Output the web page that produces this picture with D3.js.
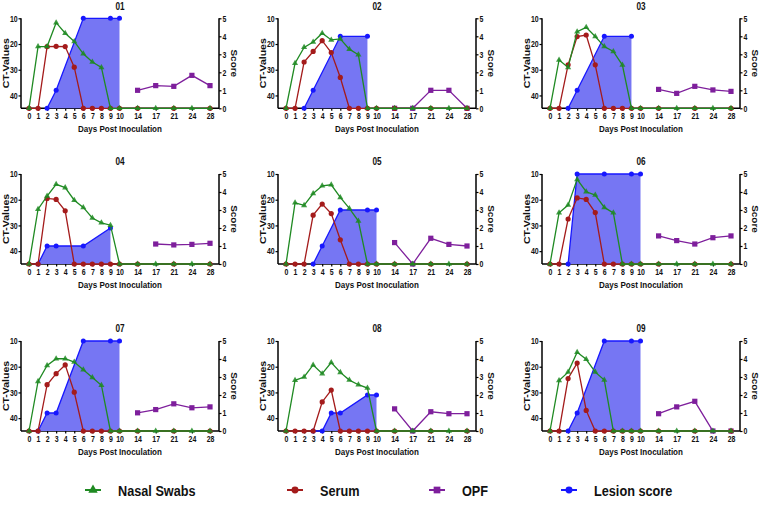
<!DOCTYPE html>
<html><head><meta charset="utf-8">
<script src="https://cdn.jsdelivr.net/npm/d3@7"></script>
<style>
html,body{margin:0;padding:0;background:#fff;}
svg text{font-family:"Liberation Sans",Arial,sans-serif;font-weight:bold;fill:#111;}
</style></head>
<body><svg id="chart" width="760" height="507"></svg>
<script>
// ---------------- data ----------------
const panelIds = ["01","02","03","04","05","06","07","08","09"];
const days = [0,1,2,3,4,5,6,7,8,9,10,14,17,21,24,28];
const serumDays = [0,1,2,3,4,5,6,7,8,9,10,14,21,28];
const opfDays = [14,17,21,24,28];
const ctTicks = [10,20,30,40];
const scoreTicks = [0,1,2,3,4,5];
const seriesNames = ["Nasal Swabs","Serum","OPF","Lesion score"];

// CT values (45 = negative, plotted on the baseline)
const nasalSwabs = [
  [45,21,21,11.7,15.8,19,23.8,27,29.1,45,45,45,45,45,45,45],
  [45,27.5,21.3,19.2,15.8,18.4,18,22,24.2,45,45,45,45,45,45,45],
  [45,26.2,29.1,15.2,13.5,17.1,21,22.9,28.2,45,45,45,45,45,45,45],
  [45,23.7,18.6,14,15.3,20.2,23,27.1,29,29.9,45,45,45,45,45,45],
  [45,21.2,22.2,17.6,14.6,14.2,19.1,23.4,28.3,45,45,45,45,45,45,45],
  [45,25.1,22.1,12.1,16.9,18.2,23,25.1,45,45,45,45,45,45,45,45],
  [45,25.7,19.5,16.9,16.9,18.2,21.2,24.2,27.2,45,45,45,45,45,45,45],
  [45,25.3,24,19.3,22.7,18.4,22.2,25.2,27,28.3,45,45,45,45,45,45],
  [45,25.4,22.1,14.4,17.1,22.1,25.2,45,45,45,45,45,45,45,45,45]
];
const serum = [
  [45,45,21,20.9,21,29,45,45,45,45,45,45,45,45],
  [45,45,27,22.9,18.7,23.3,33,45,45,45,45,45,45,45],
  [45,45,28.1,17.1,16.5,28.1,45,45,45,45,45,45,45,45],
  [45,45,19.5,19.9,24.3,45,45,45,45,45,45,45,45,45],
  [45,45,45,26,21.7,25.4,35.6,45,45,45,45,45,45,45],
  [45,45,27.5,19.3,19.9,25,45,45,45,45,45,45,45,45],
  [45,45,27,22.7,19.3,29.9,45,45,45,45,45,45,45,45],
  [45,45,45,45,33.7,29.1,45,45,45,45,45,45,45,45],
  [45,45,24.6,18.6,37,45,45,45,45,45,45,45,45,45]
];
// OPF score (right axis)
const opf = [
  [1.0,1.26,1.22,1.83,1.26],
  [0,0,1,1,0],
  [1.05,0.83,1.22,1.02,0.94],
  [null,1.11,1.06,1.09,1.15],
  [1.19,0,1.43,1.09,1.0],
  [1.56,1.30,1.11,1.46,1.56],
  [1.01,1.19,1.51,1.29,1.34],
  [1.23,0,1.07,0.96,0.96],
  [0.96,1.34,1.65,0,0]
];
// Lesion score (right axis)
const lesionDays = [
  [2,3,6,9,10],[2,3,6,9],[2,3,6,9],[1,2,3,6,9],[3,4,6,9,10],
  [2,3,6,9,10],[1,2,3,6,9,10],[3,4,5,6,9,10],[2,3,6,9,10]
];
const lesionScore = [
  [0,1,5,5,5],[0,1,4,4],[0,1,4,4],[0,1,1,1,2],[0,1,3,3,3],
  [0,5,5,5,5],[0,1,1,5,5,5],[0,0,1,1,2,2],[0,1,5,5,5]
];

// ---------------- layout ----------------
const colLeft = [21, 278, 542];
const rowTop = [18.3, 174, 341];
const plotW = 198, plotH = 90;
const SX = 0.82; // condensed look of the original lettering
const C = {green:"#1f8a22", red:"#a41b1b", purple:"#7e1f9c", blue:"#1717ff", area:"#7676f3"};

const svg = d3.select("#chart");

function hText(g, x, y, size, str){
  return g.append("text").attr("transform",`translate(${x},${y}) scale(${SX},1)`)
    .attr("text-anchor","middle").attr("font-size",size).text(str);
}

function drawPanel(p){
  const col = p % 3, row = Math.floor(p/3);
  const L = colLeft[col], R = L + plotW, T = rowTop[row], B = T + plotH;
  const x0 = L + 8, unit = (plotW - 17)/20;
  const x = d3.scaleLinear().domain(days)
    .range(days.map((d,i)=> x0 + unit*(i<=10 ? i : 10 + 2*(i-10))));
  const yCT = d3.scaleLinear().domain([10,45]).range([T,B]);
  const yS = d3.scaleLinear().domain([0,5]).range([B,T]);
  const g = svg.append("g");

  // title
  hText(g, (L+R)/2, T-8.8, 10, panelIds[p]);

  // axes
  const la = g.append("g").attr("transform",`translate(${L},0)`)
    .call(d3.axisLeft(yCT).tickValues(ctTicks).tickSize(2.5).tickPadding(1.5));
  const ra = g.append("g").attr("transform",`translate(${R},0)`)
    .call(d3.axisRight(yS).tickValues(scoreTicks).tickFormat(d3.format("d")).tickSize(2.5).tickPadding(1.8));
  const ba = g.append("g").attr("transform",`translate(0,${B})`)
    .call(d3.axisBottom(x).tickValues(days).tickFormat(d3.format("d")).tickSize(2.5).tickPadding(2));
  ba.select(".domain").remove();
  g.append("line").attr("x1",L).attr("x2",R).attr("y1",B).attr("y2",B)
    .attr("stroke","#000").attr("stroke-width",1.5);
  [la,ra,ba].forEach(a=>{
    a.selectAll(".domain").attr("stroke","#000").attr("stroke-width",1.5);
    a.selectAll(".tick line").attr("stroke","#000").attr("stroke-width",1.2);
    a.selectAll("text").attr("font-size",8.5).attr("font-family",null).attr("fill","#111")
      .attr("transform",`scale(${SX},1)`);
  });
  la.select(".domain").attr("d",`M0,${T}V${B}`);
  ra.select(".domain").attr("d",`M0,${T}V${B}`);

  g.append("text").attr("transform",`translate(${L-12.5},${(T+B)/2}) rotate(-90) scale(1,${SX})`)
    .attr("text-anchor","middle").attr("font-size",10.5).text("CT-Values");
  g.append("text").attr("transform",`translate(${R+12},${(T+B)/2}) rotate(90) scale(1,${SX})`)
    .attr("text-anchor","middle").attr("font-size",10).text("Score");
  hText(g, (L+R)/2, B+24, 9.8, "Days Post Inoculation");

  // lesion area + line
  const les = lesionDays[p].map((d,i)=>({d, v:lesionScore[p][i]}));
  g.append("path").datum(les)
    .attr("d", d3.area().x(e=>x(e.d)).y0(yS(0)).y1(e=>yS(e.v)))
    .attr("fill",C.area).attr("stroke","none");
  g.append("path").datum(les)
    .attr("d", d3.line().x(e=>x(e.d)).y(e=>yS(e.v)))
    .attr("fill","none").attr("stroke",C.blue).attr("stroke-width",1.3);
  g.selectAll(null).data(les).enter().append("circle")
    .attr("cx",e=>x(e.d)).attr("cy",e=>yS(e.v)).attr("r",2.5).attr("fill",C.blue);

  // OPF
  const op = opfDays.map((d,i)=>({d, v:opf[p][i]}));
  g.append("path").datum(op)
    .attr("d", d3.line().defined(e=>e.v!=null).x(e=>x(e.d)).y(e=>yS(e.v)))
    .attr("fill","none").attr("stroke",C.purple).attr("stroke-width",1.3);
  g.selectAll(null).data(op.filter(e=>e.v!=null)).enter().append("rect")
    .attr("x",e=>x(e.d)-2.6).attr("y",e=>yS(e.v)-2.6).attr("width",5.2).attr("height",5.2)
    .attr("fill",C.purple);

  // serum
  const se = serumDays.map((d,i)=>({d, v:serum[p][i]}));
  g.append("path").datum(se)
    .attr("d", d3.line().x(e=>x(e.d)).y(e=>yCT(e.v)))
    .attr("fill","none").attr("stroke",C.red).attr("stroke-width",1.3);
  g.selectAll(null).data(se).enter().append("circle")
    .attr("cx",e=>x(e.d)).attr("cy",e=>yCT(e.v)).attr("r",2.6).attr("fill",C.red);

  // nasal swabs
  const na = days.map((d,i)=>({d, v:nasalSwabs[p][i]}));
  g.append("path").datum(na)
    .attr("d", d3.line().x(e=>x(e.d)).y(e=>yCT(e.v)))
    .attr("fill","none").attr("stroke",C.green).attr("stroke-width",1.3);
  g.selectAll(null).data(na).enter().append("path")
    .attr("transform",e=>`translate(${x(e.d)},${yCT(e.v)})`)
    .attr("d", d3.symbol(d3.symbolTriangle, 16))
    .attr("fill",C.green).attr("fill-opacity",0.85);
}
panelIds.forEach((id,p)=>drawPanel(p));

// legend
const legX = [93, 295, 437, 569];
const legColors = [C.green, C.red, C.purple, C.blue];
const legShapes = [d3.symbolTriangle, d3.symbolCircle, d3.symbolSquare, d3.symbolCircle];
const legY = 490;
seriesNames.forEach((name,i)=>{
  const g = svg.append("g");
  g.append("line").attr("x1",legX[i]-8).attr("x2",legX[i]+8).attr("y1",legY).attr("y2",legY)
    .attr("stroke",legColors[i]).attr("stroke-width",2);
  g.append("path").attr("transform",`translate(${legX[i]},${legY})`)
    .attr("d", d3.symbol(legShapes[i], i===2?45:38)).attr("fill",legColors[i]);
  g.append("text").attr("transform",`translate(${legX[i]+25},${legY+5.5}) scale(${SX},1)`)
    .attr("font-size",15.5).text(name);
});
</script></body></html>
